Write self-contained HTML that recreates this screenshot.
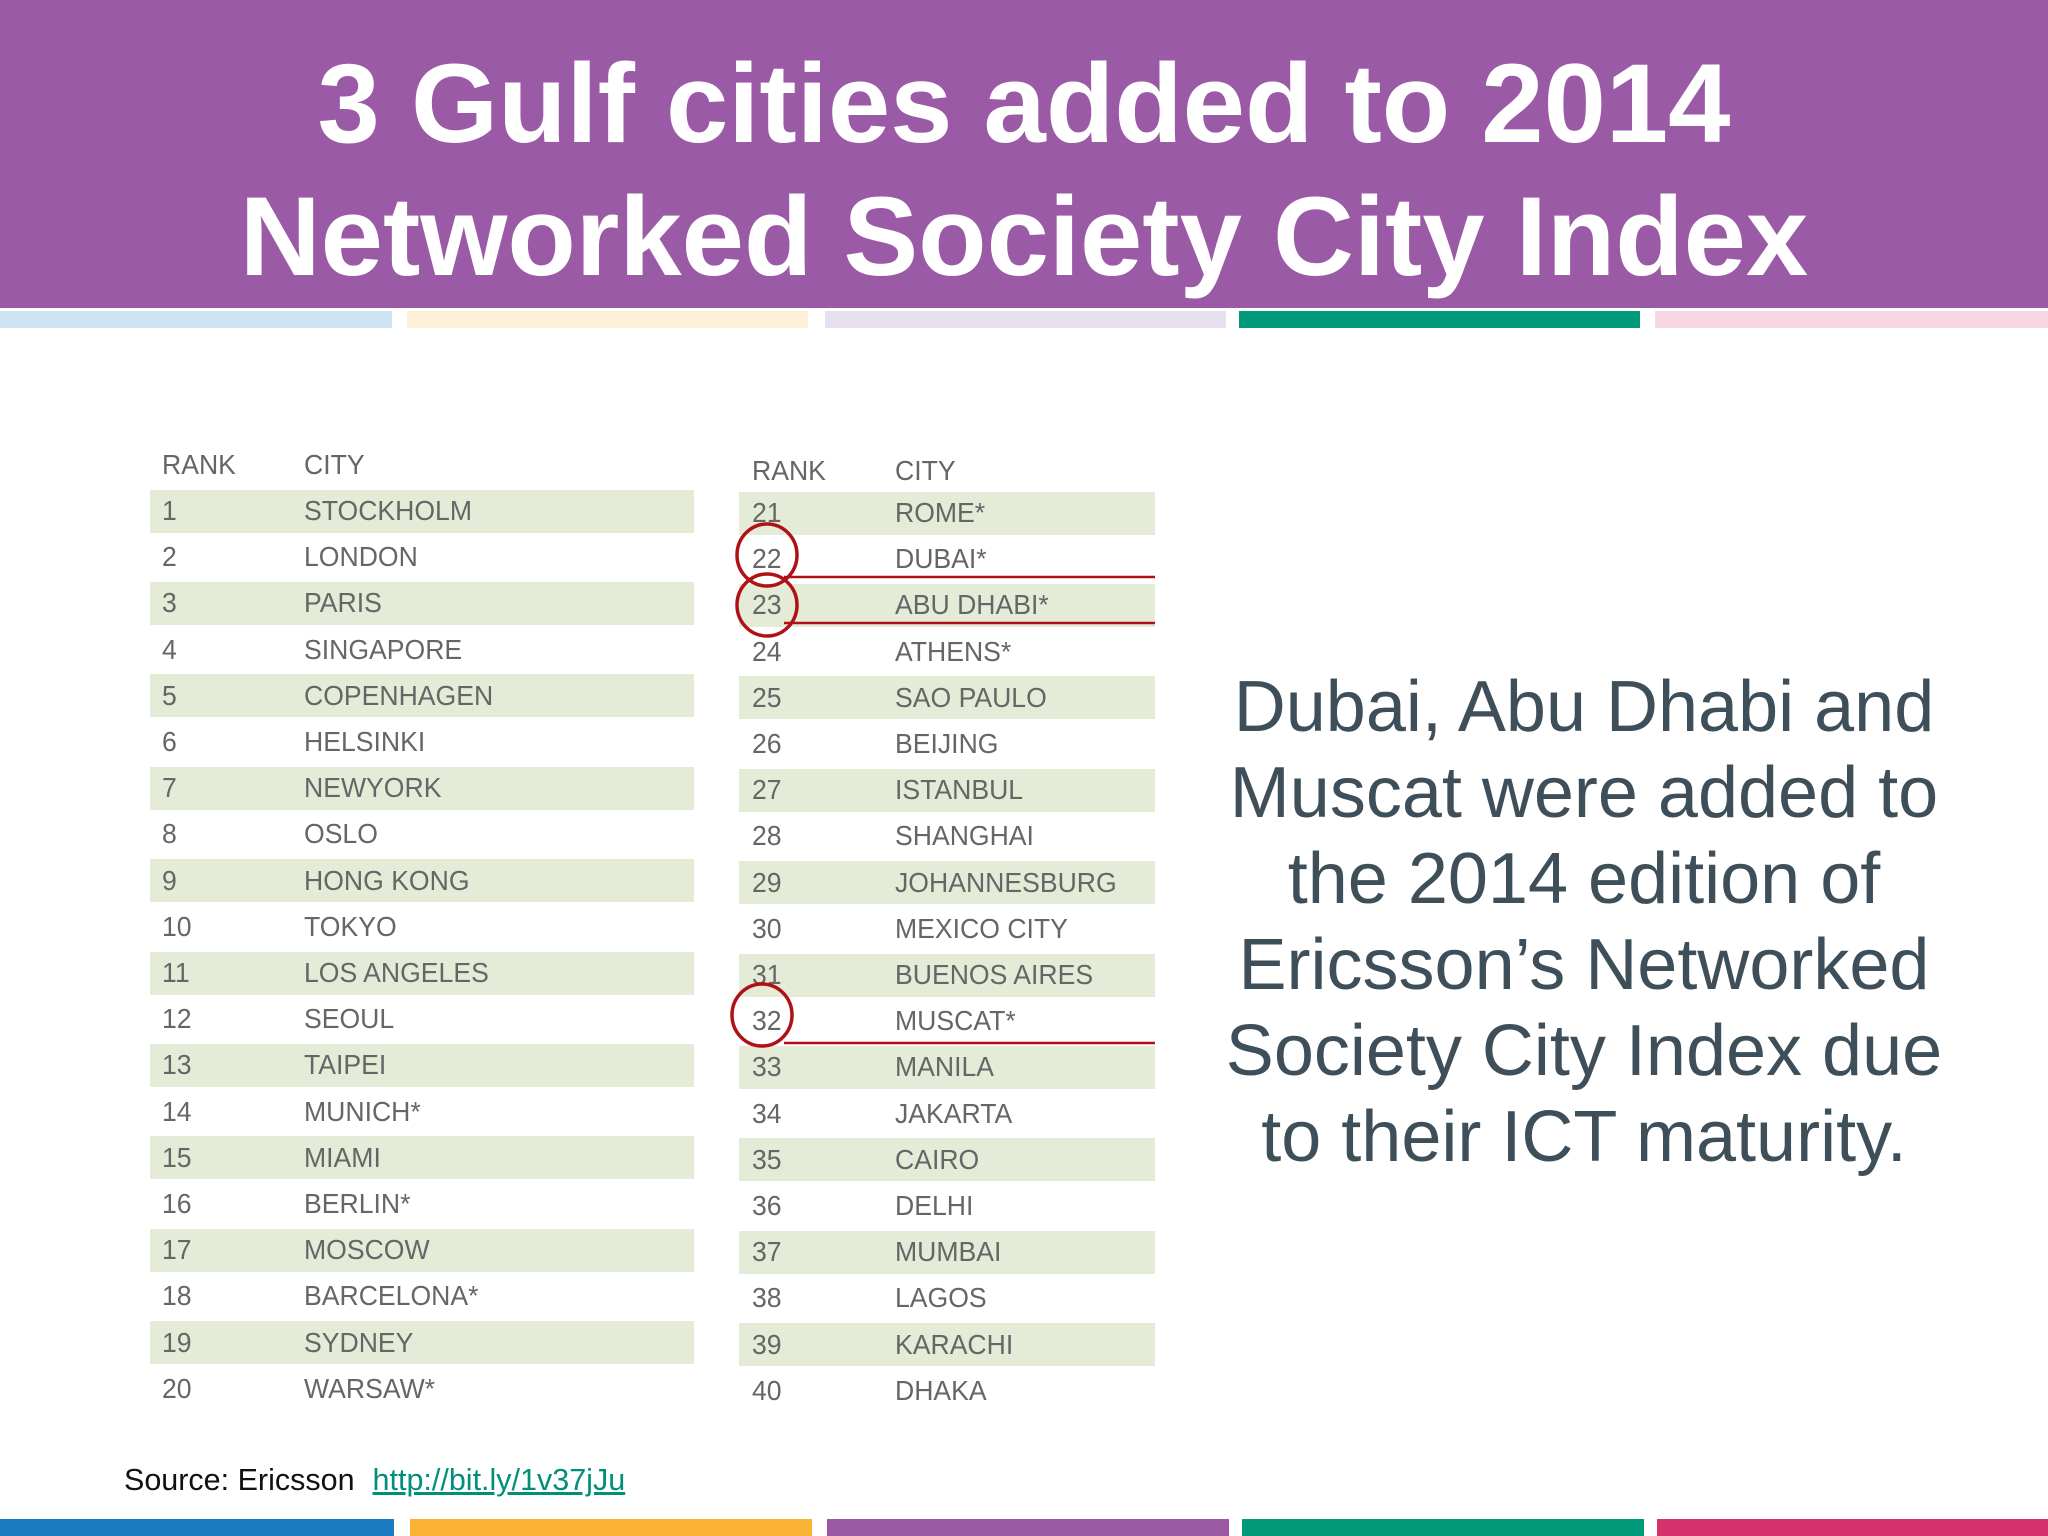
<!DOCTYPE html>
<html><head><meta charset="utf-8">
<style>
body{margin:0;width:2048px;height:1536px;overflow:hidden;background:#fff;position:relative;font-family:"Liberation Sans",sans-serif}
div{position:absolute}
.title{left:0;width:2048px;height:308px;background:#9a5aa5}
.tl{left:0;width:2048px;text-align:center;color:#fff;font-weight:bold;font-size:112px;line-height:112px}
.strip{height:17px}
.row{height:43px;background:#e4ecd8}
.t{font-family:"Liberation Sans Narrow","Liberation Sans",sans-serif;color:#666;font-size:28px;line-height:28px;transform:scaleX(0.95);transform-origin:left center;white-space:nowrap}
.side{left:1184px;width:800px;text-align:center;color:#3e4f5a;font-size:72px;line-height:86px}
</style></head><body>
<div class="title"></div>
<div class="tl" style="top:48px">3 Gulf cities added to 2014</div>
<div class="tl" style="top:181px">Networked Society City Index</div>
<div class="strip" style="top:311px;left:0;width:392px;background:#cce4f3"></div>
<div class="strip" style="top:311px;left:407px;width:401px;background:#fdf0d8"></div>
<div class="strip" style="top:311px;left:825px;width:401px;background:#e8dfee"></div>
<div class="strip" style="top:311px;left:1239px;width:401px;background:#009a7a"></div>
<div class="strip" style="top:311px;left:1655px;width:393px;background:#f8d6e2"></div>
<div id="tables"></div>
<svg width="2048" height="1536" style="position:absolute;left:0;top:0">
<g fill="none" stroke="#b01116" stroke-width="3.5">
<ellipse cx="767" cy="555" rx="30" ry="31"/>
<ellipse cx="767" cy="605" rx="30" ry="31"/>
<ellipse cx="762" cy="1015" rx="30" ry="31"/>
<line x1="784" y1="577" x2="1155" y2="577" stroke-width="2.5"/>
<line x1="784" y1="623" x2="1155" y2="623" stroke-width="2.5"/>
<line x1="784" y1="1043" x2="1155" y2="1043" stroke-width="2.5"/>
</g></svg>
<div class="side" style="top:664px">Dubai, Abu Dhabi and<br>Muscat were added to<br>the 2014 edition of<br>Ericsson’s Networked<br>Society City Index due<br>to their ICT maturity.</div>
<div style="left:124px;top:1463px;font-size:30.5px;color:#111;white-space:nowrap">Source: Ericsson<span style="display:inline-block;width:18px"></span><span style="color:#00907a;text-decoration:underline">http://bit.ly/1v37jJu</span></div>
<div class="strip" style="top:1519px;left:0;width:394px;background:#1a7bc0"></div>
<div class="strip" style="top:1519px;left:410px;width:402px;background:#f9b234"></div>
<div class="strip" style="top:1519px;left:827px;width:402px;background:#9b59a4"></div>
<div class="strip" style="top:1519px;left:1242px;width:402px;background:#009a7a"></div>
<div class="strip" style="top:1519px;left:1657px;width:391px;background:#d6336c"></div>
<script>
const citiesLeft=["STOCKHOLM","LONDON","PARIS","SINGAPORE","COPENHAGEN","HELSINKI","NEWYORK","OSLO","HONG KONG","TOKYO","LOS ANGELES","SEOUL","TAIPEI","MUNICH*","MIAMI","BERLIN*","MOSCOW","BARCELONA*","SYDNEY","WARSAW*"];
const citiesRight=["ROME*","DUBAI*","ABU DHABI*","ATHENS*","SAO PAULO","BEIJING","ISTANBUL","SHANGHAI","JOHANNESBURG","MEXICO CITY","BUENOS AIRES","MUSCAT*","MANILA","JAKARTA","CAIRO","DELHI","MUMBAI","LAGOS","KARACHI","DHAKA"];
const root=document.getElementById('tables');
function mk(cls,l,t,w,txt){const d=document.createElement('div');d.className=cls;d.style.left=l+'px';d.style.top=t+'px';if(w)d.style.width=w+'px';if(txt!==undefined)d.textContent=txt;root.appendChild(d);return d;}
function table(list,start,x0,x1,rx,cx,hy,y0,name){
  let h=mk('t',rx,hy-14,0,'RANK');
  
  
  h=mk('t',cx,hy-14,0,'CITY');
  
  
  list.forEach((c,i)=>{
    const y=y0+i*46.2;
    if(i%2===0){const r=mk('row',x0,y-21.5,x1-x0);
      
      }
    const a=mk('t',rx,y-14,0,String(start+i));
    
    
    const b=mk('t',cx,y-14,0,c);
    
    
  });
}
table(citiesLeft,1,150,694,162,304,465,511,'left-table');
table(citiesRight,21,739,1155,752,895,471,513,'right-table');
</script>
</body></html>
